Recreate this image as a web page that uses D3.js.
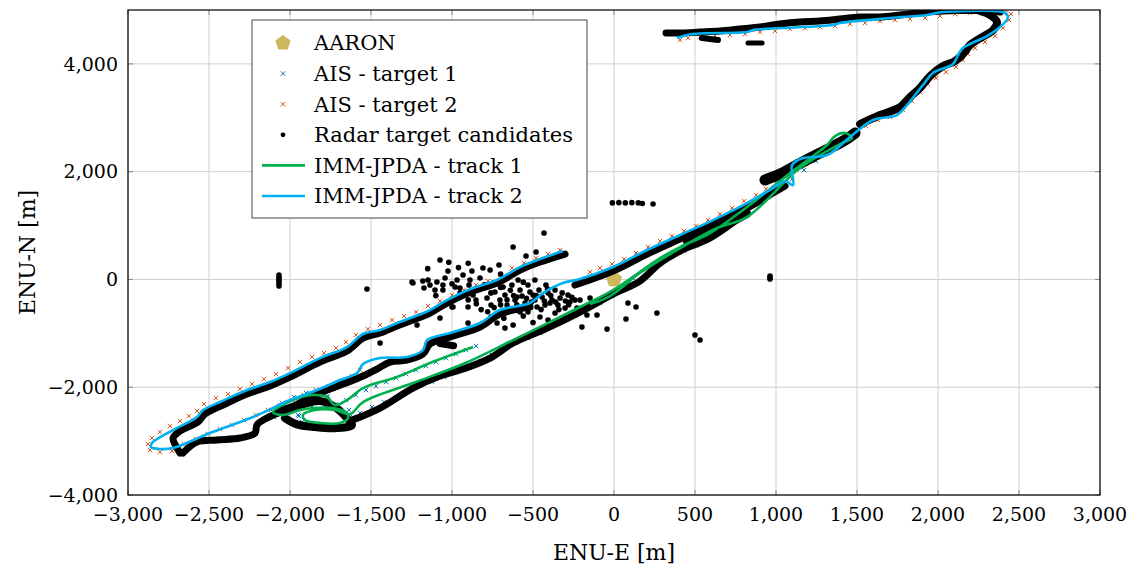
<!DOCTYPE html>
<html>
<head>
<meta charset="utf-8">
<script src="https://cdn.jsdelivr.net/npm/d3@7"></script>
<style>
  body { margin: 0; background: #fff; }
  text { font-family: "DejaVu Serif", serif; fill: #000; }
</style>
</head>
<body>
<svg id="chart" width="1131" height="569"></svg>
<script>
// ---- data (ENU metres) ----
var xTicks = [-3000, -2500, -2000, -1500, -1000, -500, 0, 500, 1000, 1500, 2000, 2500, 3000];
var yTicks = [-4000, -2000, 0, 2000, 4000];

var aaron = [[0, 0]];

var aisTarget1 = [
  [-852,-1236],[-914,-1310],[-975,-1384],[-1037,-1459],[-1099,-1533],[-1161,-1607],[-1222,-1681],[-1284,-1756],
  [-1346,-1830],[-1407,-1904],[-1469,-1978],[-1531,-2052],[-1593,-2145],[-1654,-2238],[-1716,-2312],
  [-1766,-2164],[-1827,-2108],[-1901,-2108],[-1975,-2183],[-2049,-2294],[-2117,-2424],[-2099,-2554],[-2025,-2591],[-1951,-2516],
  [-1864,-2349],[-1784,-2331],[-1704,-2349],[-1636,-2424],[-1611,-2554],[-1642,-2683],[-1704,-2721],[-1778,-2721],
  [-1852,-2702],[-1926,-2646],[-1945,-2535],
  [-1568,-2479],[-1494,-2368],[-1420,-2275],[-1346,-2182],[-1272,-2071],[-1198,-1978],[-1123,-1904],[-1049,-1811],
  [-975,-1718],[-901,-1626],[-827,-1514],[-753,-1403],[-679,-1273],[-605,-1180],[-531,-1087],[-457,-995],[-383,-883],
  [-309,-772],[-235,-661],[-160,-549],[-86,-438],[-12,-308],[62,-178],[136,-30],[210,119],[284,286],[358,416],
  [432,527],[506,638],[580,750],[654,898],[728,1047],[803,1195],[877,1362],[951,1529],[1025,1696],[1099,1863],
  [1173,2030],[1247,2197],[1321,2364],[1395,2513],[1456,2605]
];

var aisTarget2 = [
  [-333,546],[-407,471],[-481,397],[-556,304],[-630,212],[-704,82],[-778,-30],[-852,-104],[-926,-197],[-1000,-290],
  [-1074,-401],[-1148,-494],[-1222,-605],[-1296,-679],[-1370,-753],[-1444,-846],[-1519,-921],[-1593,-1032],[-1654,-1162],
  [-1716,-1273],[-1790,-1366],[-1864,-1440],[-1938,-1533],[-2012,-1644],[-2087,-1756],[-2161,-1848],[-2235,-1941],
  [-2309,-2034],[-2383,-2127],[-2457,-2201],[-2531,-2312],[-2574,-2442],[-2624,-2535],[-2679,-2628],[-2741,-2721],
  [-2803,-2832],[-2852,-2943],[-2877,-3055],[-2864,-3166],[-2803,-3203],[-2728,-3185],
  [-2654,-3055],[-2580,-2962],[-2506,-2869],[-2432,-2776],[-2358,-2702],[-2284,-2609],[-2210,-2516],[-2136,-2424],
  [-2062,-2331],[-1988,-2238],[-1914,-2145],[-1840,-2052],[-1766,-1978],[-1691,-1885],[-1617,-1793],[-1568,-1681],
  [-148,137],[-86,212],[-12,286],[62,379],[136,490],[210,601],[284,713],[358,805],[432,898],[506,991],[580,1102],
  [654,1214],[728,1325],[803,1455],[877,1566],[938,1678],[1000,1789],[1062,1900],[1123,2030],[1185,2141],[1247,2271],
  [1309,2383],[1370,2494],[1432,2605],[1494,2735],[1556,2846],[1630,2958],[1704,3014],[1784,3143],[1840,3310],
  [1889,3477],[1938,3626],[1988,3737],[2049,3849],[2111,3942],[2154,4071],[2185,4183],[2229,4294],[2290,4405],
  [2352,4517],[2401,4665],[2438,4813],[2451,4925],[2420,4990],[2364,4990],
  [2290,4962],[2198,4944],[2105,4925],[2012,4888],[1920,4851],[1827,4832],[1735,4814],[1642,4795],[1549,4758],
  [1457,4740],[1364,4703],[1272,4684],[1179,4665],[1086,4647],[994,4610],[901,4591],[809,4554],[716,4536],
  [623,4517],[531,4498],[457,4480],[407,4443]
];

// radar target candidates: dense runs of detections along the ship paths
var radarUpperLeft = [
  [-302,471],[-457,323],[-580,174],[-722,-67],[-870,-215],[-1031,-438],[-1136,-624],[-1241,-754],[-1340,-865],
  [-1444,-995],[-1549,-1088],[-1648,-1329],[-1815,-1533],[-2000,-1811],[-2124,-1978],[-2265,-2127],[-2401,-2312],
  [-2525,-2498],[-2568,-2646],[-2679,-2813],[-2722,-2943],[-2704,-3092],[-2679,-3221]
];
var radarLowerReturn = [
  [-2661,-3221],[-2574,-3017],[-2451,-2980],[-2309,-2943],[-2216,-2850],[-2204,-2702],[-2154,-2591],[-2000,-2387],
  [-1833,-2127],[-1673,-1941],[-1549,-1793],[-1463,-1663],[-1383,-1533],[-1278,-1496],[-1179,-1384],[-1136,-1199],
  [-1012,-1069],[-827,-883],[-704,-642],[-519,-512]
];
var radarNorthEast = [
  [-241,-104],[-6,156],[204,471],[407,750],[611,1028],[821,1325],[981,1603],[1056,1733]
];
var radarBetween = [[451,694],[654,954],[821,1214]];
var radarKink = [[932,1845],[1025,1956],[1117,2105],[1210,2253],[1333,2438],[1426,2587],[1488,2717]];
var radarDescending = [
  [1519,2884],[1642,3051],[1766,3199],[1827,3385],[1889,3552],[1951,3775],[2031,3960],[2105,4053],[2154,4183],
  [2198,4350],[2272,4498],[2340,4628],[2364,4777],[2321,4907],[2259,4981]
];
var radarTop = [
  [2383,4962],[2259,4990],[2136,4990],[2031,4981],[1932,4962],[1766,4907],[1642,4870],[1519,4870],[1395,4832],
  [1272,4795],[1148,4777],[1025,4740],[901,4684],[778,4647],[654,4610],[531,4591],[407,4573],[321,4573]
];
var radarTopPatch1 = [[543,4480],[642,4443]];
var radarTopPatch2 = [[827,4387],[914,4387]];
var radarTrack1 = [
  [-1630,-2628],[-1444,-2387],[-1241,-2015],[-1074,-1793],[-932,-1663],[-765,-1459],[-623,-1180],[-426,-921],
  [-210,-605],[-6,-271],[160,-30],[284,304],[407,527],[593,769],[821,1251]
];
var radarLoops = [
  [-2062,-2442],[-1938,-2331],[-1815,-2257],[-1722,-2368],[-1648,-2572],[-1617,-2700],[-1722,-2760],[-1846,-2740],
  [-1957,-2690],[-2031,-2572]
];
var radarTail = [[-1074,-1190],[-990,-1230]];

var radarScatter = [
  [-432,861],[-623,601],[-543,434],[-481,508],[-1074,360],[-1025,156],[-877,156],[-765,174],[-710,267],[-1247,-48],
  [-1173,-160],[-1148,-11],[-1105,-197],[-1056,-197],[-969,-11],[-951,-160],[-895,-104],[-870,-290],[-827,26],
  [-809,-141],[-784,-345],[-735,-234],[-685,-141],[-660,-475],[-630,-104],[-599,-327],[-580,-197],[-549,-438],
  [-531,-605],[-500,-290],[-475,-512],[-457,-698],[-420,-104],[-395,-438],[-364,-624],[-333,-345],[-302,-531],
  [-272,-419],[-228,-531],[-210,-382],[-198,-884],[-167,-661],[-148,-345],[-105,-661],[-43,-921],[86,-438],
  [136,-512],[74,-735],[265,-624],[-1074,-716],[-994,-512],[-901,-512],[-1216,-846],[-722,-809],[-673,-902],
  [-623,-846],[-1031,-1217],[-1056,-1180],[-1444,-1180],[-1525,-178],[-1241,-67],[-1000,-512],[-901,-809],
  [-1136,-104],[-1093,-48],[-1056,-104],[500,-1032],[531,-1125],
  [-673,-290],[-611,-382],[-568,-308],[-519,-234],[-488,-382],[-444,-327],[-407,-253],[-383,-382],[-346,-475],
  [-426,-475],[-463,-197],[-531,-104],[-592,-11],[-654,26],[-747,-67],[-704,-382],[-642,-568],[-580,-605],
  [-759,-475],[-852,-382],[-920,-290],[-981,-141],[-1043,26],[-932,82],[-809,212],[-889,-11],[-488,-11],
  [-364,-197],[-284,-290],[-241,-382],[-302,-716],[-407,-753],[-333,-790],
  [-850,-450],[-820,-560],[-780,-600],[-740,-520],[-700,-470],[-660,-380],[-620,-300],[-600,-470],[-560,-520],
  [-540,-350],[-510,-420],[-480,-300],[-450,-560],[-430,-400],[-410,-180],[-390,-300],[-360,-420],[-340,-560],
  [-320,-250],[-300,-400],[-280,-470],[-260,-330],[-640,-200],[-700,-150],[-760,-250],[-800,-100],[-850,-200],
  [-900,-380],[-950,-250],[-1000,-80],[-1100,-300],[-1180,-30],[-1150,200],[-1020,320],[-960,220],[-900,300],
  [-700,100],[-620,120],[-560,-50],[-760,-700],[-680,-720],[-560,-680],[-500,-800],
  [-2068,82],[-2068,40],[-2068,0],[-2068,-40],[-2068,-80],[-2068,-123],
  [963,63],[963,30],[963,7],
  [-10,1420],[30,1425],[70,1420],[110,1425],[150,1420],[175,1410],[241,1400]
];

var immTrack1 = [
  [-870,-1254],[-1136,-1551],[-1340,-1811],[-1549,-2015],[-1648,-2238],[-1722,-2331],[-1772,-2182],[-1858,-2145],
  [-1982,-2238],[-2105,-2461],[-2043,-2516],[-1938,-2424],[-1858,-2387],[-1735,-2387],[-1648,-2479],[-1642,-2572],
  [-1691,-2665],[-1815,-2665],[-1907,-2609],[-1920,-2516],[-1846,-2424],[-1722,-2424],[-1630,-2498],[-1549,-2275],
  [-1241,-1923],[-932,-1570],[-623,-1125],[-210,-512],[-6,-197],[284,397],[407,601],[593,861],[821,1344],[1087,1974],
  [1315,2494],[1364,2661],[1426,2717],[1469,2624],[1395,2513],[1148,2067],[821,1158],[636,954],[346,471],[160,119],
  [-25,-308],[-148,-457]
];

var immTrack2 = [
  [-315,527],[-457,379],[-580,230],[-722,-11],[-870,-160],[-1031,-382],[-1136,-568],[-1241,-698],[-1340,-809],
  [-1444,-939],[-1549,-1013],[-1648,-1254],[-1815,-1459],[-2000,-1737],[-2124,-1904],[-2265,-2052],[-2432,-2275],
  [-2537,-2424],[-2574,-2553],[-2722,-2795],[-2852,-3036],[-2858,-3110],[-2803,-3147],[-2722,-3129],[-2494,-2850],
  [-2228,-2553],[-2000,-2238],[-1833,-2052],[-1691,-1867],[-1586,-1737],[-1549,-1570],[-1444,-1459],[-1278,-1440],
  [-1179,-1310],[-1154,-1124],[-1012,-995],[-827,-809],[-704,-568],[-519,-438],[-438,-253],[-315,-67],[-210,7],
  [-6,230],[204,546],[407,824],[611,1102],[821,1418],[981,1696],[1056,1826],[1105,1752],[1099,2123],[1167,2252],
  [1315,2308],[1457,2642],[1599,2958],[1747,3051],[1809,3237],[1907,3608],[1969,3831],[2093,3998],[2124,4165],
  [2154,4295],[2303,4517],[2383,4684],[2432,4870],[2401,4962],[2340,4981],[2031,4962],[1932,4907],[1704,4851],
  [1395,4758],[1352,4721],[858,4628],[821,4591],[481,4554],[389,4480]
];

var legendLabels = ["AARON", "AIS - target 1", "AIS - target 2", "Radar target candidates", "IMM-JPDA - track 1", "IMM-JPDA - track 2"];

// ---- chart ----
var colAaron = "#CCB85C", colAis1 = "#0072BD", colAis2 = "#D95319", colT1 = "#00B050", colT2 = "#00B0F0";

var svg = d3.select("#chart");
var margin = {left: 128, top: 10};
var width = 972, height = 485;

var x = d3.scaleLinear().domain([-3000, 3000]).range([0, width]);
var y = d3.scaleLinear().domain([-4000, 5000]).range([height, 0]);
var fmt = d3.format(",");

var g = svg.append("g").attr("transform", "translate(" + margin.left + "," + margin.top + ")");

g.append("clipPath").attr("id", "clip").append("rect").attr("width", width).attr("height", height);

// grid
g.selectAll(".gx").data(xTicks).enter().append("line")
  .attr("x1", d => x(d)).attr("x2", d => x(d)).attr("y1", 0).attr("y2", height)
  .attr("stroke", "#cfcfcf").attr("stroke-width", 1);
g.selectAll(".gy").data(yTicks).enter().append("line")
  .attr("y1", d => y(d)).attr("y2", d => y(d)).attr("x1", 0).attr("x2", width)
  .attr("stroke", "#cfcfcf").attr("stroke-width", 1);

// inner tick marks
xTicks.forEach(function(t) {
  g.append("line").attr("x1", x(t)).attr("x2", x(t)).attr("y1", height).attr("y2", height - 5).attr("stroke", "#888");
  g.append("line").attr("x1", x(t)).attr("x2", x(t)).attr("y1", 0).attr("y2", 5).attr("stroke", "#888");
});
yTicks.forEach(function(t) {
  g.append("line").attr("y1", y(t)).attr("y2", y(t)).attr("x1", 0).attr("x2", 5).attr("stroke", "#888");
  g.append("line").attr("y1", y(t)).attr("y2", y(t)).attr("x1", width).attr("x2", width - 5).attr("stroke", "#888");
});

var plot = g.append("g").attr("clip-path", "url(#clip)");

var line = d3.line().x(d => x(d[0])).y(d => y(d[1])).curve(d3.curveCatmullRom.alpha(0.5));

function cross(sel, color) {
  sel.append("path").attr("d", "M-2.2,-2.2L2.2,2.2M-2.2,2.2L2.2,-2.2")
    .attr("stroke", color).attr("stroke-width", 1).attr("fill", "none");
}
function pent(r) {
  var pts = [];
  for (var i = 0; i < 5; i++) {
    var a = -Math.PI / 2 + i * 2 * Math.PI / 5;
    pts.push([r * Math.cos(a), r * Math.sin(a)]);
  }
  return "M" + pts.join("L") + "Z";
}

// AARON
plot.selectAll(".aaron").data(aaron).enter().append("path")
  .attr("transform", d => "translate(" + x(d[0]) + "," + y(d[1]) + ")")
  .attr("d", pent(8.5)).attr("fill", colAaron);

// AIS
plot.selectAll(".ais1").data(aisTarget1).enter().append("g")
  .attr("transform", d => "translate(" + x(d[0]) + "," + y(d[1]) + ")")
  .each(function() { cross(d3.select(this), colAis1); });
plot.selectAll(".ais2").data(aisTarget2).enter().append("g")
  .attr("transform", d => "translate(" + x(d[0]) + "," + y(d[1]) + ")")
  .each(function() { cross(d3.select(this), colAis2); });

// radar
var bands = [
  [radarUpperLeft, 7], [radarLowerReturn, 7], [radarNorthEast, 7], [radarBetween, 8], [radarKink, 11],
  [radarDescending, 8], [radarTop, 7], [radarTopPatch1, 6], [radarTopPatch2, 5], [radarTrack1, 7],
  [radarLoops, 8], [radarTail, 7]
];
bands.forEach(function(b) {
  plot.append("path").datum(b[0]).attr("d", line)
    .attr("fill", "none").attr("stroke", "#000").attr("stroke-width", b[1])
    .attr("stroke-linecap", "round").attr("stroke-linejoin", "round");
});
plot.selectAll(".radar").data(radarScatter).enter().append("circle")
  .attr("cx", d => x(d[0])).attr("cy", d => y(d[1])).attr("r", 2.8).attr("fill", "#000");

// tracks
plot.append("path").datum(immTrack1).attr("d", line)
  .attr("fill", "none").attr("stroke", colT1).attr("stroke-width", 2.6).attr("stroke-linejoin", "round");
plot.append("path").datum(immTrack2).attr("d", line)
  .attr("fill", "none").attr("stroke", colT2).attr("stroke-width", 2.6).attr("stroke-linejoin", "round");

// axes box
g.append("rect").attr("width", width).attr("height", height)
  .attr("fill", "none").attr("stroke", "#000").attr("stroke-width", 1.2);

// tick labels
g.selectAll(".xl").data(xTicks).enter().append("text")
  .attr("x", d => x(d)).attr("y", height + 26).attr("text-anchor", "middle")
  .style("font-size", "19px").text(d => fmt(d));
g.selectAll(".yl").data(yTicks).enter().append("text")
  .attr("x", -10).attr("y", d => y(d)).attr("dy", "0.35em").attr("text-anchor", "end")
  .style("font-size", "19px").text(d => fmt(d));

// axis titles
svg.append("text").attr("x", margin.left + width / 2).attr("y", 560).attr("text-anchor", "middle")
  .style("font-size", "22px").text("ENU-E [m]");
svg.append("text").attr("transform", "translate(35," + (margin.top + height / 2) + ") rotate(-90)")
  .attr("text-anchor", "middle").style("font-size", "22px").text("ENU-N [m]");

// legend
var lg = svg.append("g").attr("transform", "translate(252,20)");
lg.append("rect").attr("width", 335).attr("height", 198).attr("fill", "#fff").attr("stroke", "#444").attr("stroke-width", 1);
legendLabels.forEach(function(lab, i) {
  var ly = 23 + i * 30.6;
  var item = lg.append("g").attr("transform", "translate(31," + ly + ")");
  if (i === 0) item.append("path").attr("d", pent(8)).attr("fill", colAaron);
  if (i === 1) cross(item, colAis1);
  if (i === 2) cross(item, colAis2);
  if (i === 3) item.append("circle").attr("r", 2.4).attr("fill", "#000");
  if (i === 4) item.append("line").attr("x1", -21).attr("x2", 22).attr("stroke", colT1).attr("stroke-width", 2.6);
  if (i === 5) item.append("line").attr("x1", -21).attr("x2", 22).attr("stroke", colT2).attr("stroke-width", 2.6);
  lg.append("text").attr("x", 62).attr("y", ly).attr("dy", "0.35em").style("font-size", "21px").text(lab);
});
</script>
</body>
</html>
